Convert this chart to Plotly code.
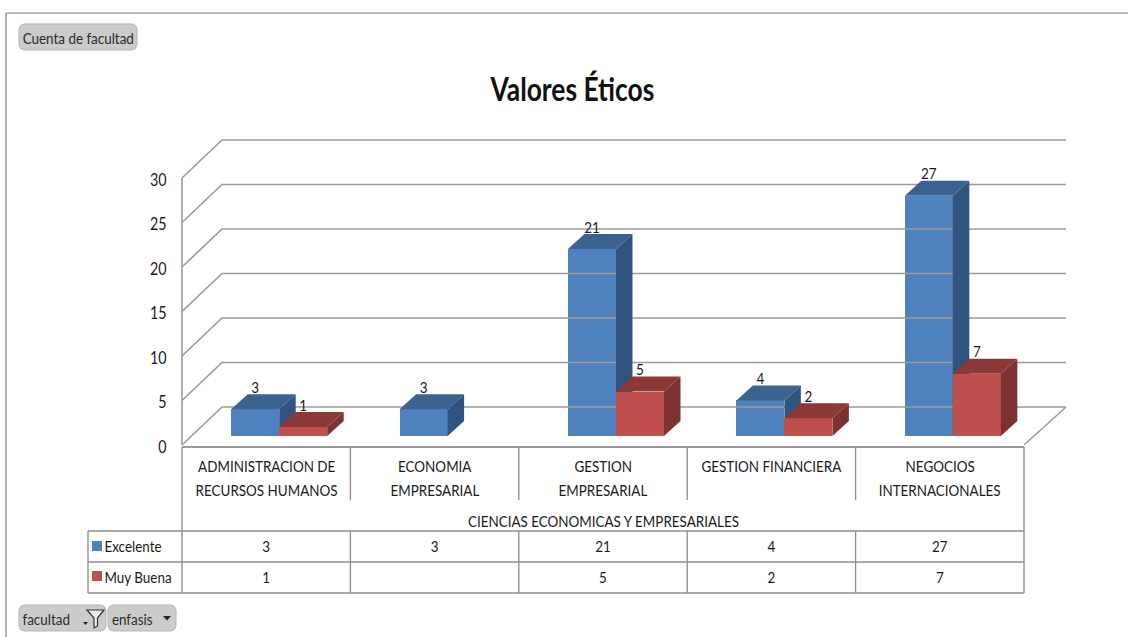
import plotly.graph_objects as go

# ---------- data ----------
categories = ["ADMINISTRACION DE<br>RECURSOS HUMANOS", "ECONOMIA<br>EMPRESARIAL", "GESTION<br>EMPRESARIAL",
              "GESTION FINANCIERA", "NEGOCIOS<br>INTERNACIONALES"]
group_label = "CIENCIAS ECONOMICAS Y EMPRESARIALES"
excelente = [3, 3, 21, 4, 27]
muy_buena = [1, None, 5, 2, 7]
y_ticks = [0, 5, 10, 15, 20, 25, 30]
title_text = "Valores Éticos"

# ---------- geometry ----------
W, H = 1128, 637
X0_PX, CAT_PX = 182.0, 168.4      # pixel of category 0, pixels per category
Y0_PX, UNIT_PX = 445.0, 8.9       # pixel of value 0, pixels per value unit
FONT = "Lato, sans-serif"
TXT = "#1a1a1a"
GRID = "#9a9a9a"
TABLE = "#8c8c8c"


def dx(px):
    return px / CAT_PX


def dy(px):
    return px / UNIT_PX


def row_y(py):
    return (Y0_PX - py) / UNIT_PX


def paper_x(px):
    return px / W


def paper_y(py):
    return 1 - py / H


xrange_ = [-X0_PX / CAT_PX, (W - X0_PX) / CAT_PX]
yrange_ = [(Y0_PX - H) / UNIT_PX, Y0_PX / UNIT_PX]

WALL_X, WALL_Y = dx(40), dy(38)   # depth of the chart box
BACK_EXTRA = dx(2)
BAR_W = dx(48)
BAR_SHIFT = dx(13)                # pair centre offset from category centre
BAR_FLOOR = dy(9)                 # front bottom of the bars, in value units
BAR_DX, BAR_DY = dx(16.5), dy(15)  # depth of a bar

fig = go.Figure()

# ---------- walls ----------
n = len(categories)
for t in y_ticks:
    fig.add_trace(go.Scatter(
        x=[0, WALL_X, n + WALL_X + BACK_EXTRA], y=[t, t + WALL_Y, t + WALL_Y],
        mode="lines", line=dict(color=GRID, width=1.6), hoverinfo="skip", showlegend=False))
fig.add_trace(go.Scatter(
    x=[n, n + WALL_X + BACK_EXTRA], y=[0, WALL_Y],
    mode="lines", line=dict(color=GRID, width=1.4), hoverinfo="skip", showlegend=False))
fig.add_trace(go.Scatter(
    x=[0, 0], y=[y_ticks[0], y_ticks[-1]],
    mode="lines", line=dict(color=GRID, width=1.6), hoverinfo="skip", showlegend=False))


def add_series(values, name, front, top, side, left_off, xa, ya):
    xs, ys = [], []
    for i, v in enumerate(values):
        if v is None:
            continue
        xs.append(i + 0.5 + BAR_SHIFT + left_off + BAR_W / 2)
        ys.append(v)
    fig.add_trace(go.Bar(x=xs, y=ys, base=BAR_FLOOR, width=BAR_W, name=name,
                         marker=dict(color=front, line=dict(width=0)),
                         xaxis=xa, yaxis=ya, showlegend=False))
    for cx, v in zip(xs, ys):
        l, r = cx - BAR_W / 2, cx + BAR_W / 2
        b, t = BAR_FLOOR, BAR_FLOOR + v
        fig.add_trace(go.Scatter(
            x=[r, r + BAR_DX, r + BAR_DX, r, r], y=[b, b + BAR_DY, t + BAR_DY, t, b],
            fill="toself", fillcolor=side, mode="lines", line=dict(width=0, color=side),
            xaxis=xa, yaxis=ya, hoverinfo="skip", showlegend=False))
        fig.add_trace(go.Scatter(
            x=[l, r, r + BAR_DX, l + BAR_DX, l], y=[t, t, t + BAR_DY, t + BAR_DY, t],
            fill="toself", fillcolor=top, mode="lines", line=dict(width=0, color=top),
            xaxis=xa, yaxis=ya, hoverinfo="skip", showlegend=False))
    fig.add_trace(go.Scatter(
        x=xs, y=[BAR_FLOOR + v + dy(20.5) for v in ys], text=[str(v) for v in ys],
        mode="text", textposition="middle center",
        textfont=dict(family=FONT, size=16, color=TXT),
        xaxis=xa, yaxis=ya, hoverinfo="skip", showlegend=False))


add_series(excelente, "Excelente", "#4f81bd", "#3c6290", "#30537f", -BAR_W, "x", "y")
add_series(muy_buena, "Muy Buena", "#c0504d", "#8c3836", "#7d3230", 0, "x2", "y2")

# ---------- data table text, on the same scales ----------
centres = [i + 0.5 for i in range(n)]
for label_row, vals in ((row_y(548), excelente), (row_y(579), muy_buena)):
    fig.add_trace(go.Scatter(
        x=centres, y=[label_row] * len(vals), text=["" if v is None else str(v) for v in vals],
        mode="text", textfont=dict(family=FONT, size=16, color=TXT),
        hoverinfo="skip", showlegend=False))

annotations = []
for c, label in zip(centres, categories):
    for k, part in enumerate(label.split("<br>")):
        annotations.append(dict(x=c, xref="x", y=row_y(465 + 24 * k), yref="y", yanchor="middle",
                                text=part, showarrow=False, align="center",
                                font=dict(family=FONT, size=16, color=TXT)))
annotations.append(dict(x=2.5, xref="x", y=row_y(520), yref="y", yanchor="middle", text=group_label,
                        showarrow=False, font=dict(family=FONT, size=16, color=TXT)))
annotations.append(dict(x=paper_x(572), xref="paper", y=paper_y(88), yref="paper", yanchor="middle",
                        text="<b>" + title_text + "</b>", showarrow=False,
                        font=dict(family=FONT, size=33, color="#111111")))


def chrome_text(px, py, s, size=16, anchor="center", color="#2a2a2a"):
    annotations.append(dict(x=paper_x(px), xref="paper", y=paper_y(py), yref="paper", yanchor="middle",
                            text=s, showarrow=False, xanchor=anchor,
                            font=dict(family=FONT, size=size, color=color)))


chrome_text(97, 545, "Excelente", anchor="left", color=TXT)
chrome_text(96, 576, "Muy Buena", anchor="left", color=TXT)
chrome_text(78, 37, "Cuenta de facultad")
chrome_text(16, 618, "facultad", anchor="left")
chrome_text(106, 618, "enfasis", anchor="left")

# ---------- chrome ----------
shapes = []


def line(x0, y0, x1, y1, color=TABLE, width=1.3):
    shapes.append(dict(type="line", xref="paper", yref="paper", x0=paper_x(x0), x1=paper_x(x1),
                       y0=paper_y(y0), y1=paper_y(y1), line=dict(color=color, width=width)))


def poly(points, fill, lcolor=None, w=0):
    path = "M " + " L ".join(f"{paper_x(a):.5f},{paper_y(b):.5f}" for a, b in points) + " Z"
    shapes.append(dict(type="path", xref="paper", yref="paper", path=path, fillcolor=fill,
                       line=dict(color=lcolor or fill, width=w)))


def button(x0, y0, x1, y1, r=5):
    pts = [(x0 + r, y0), (x1 - r, y0), (x1 - r * .3, y0 + r * .3), (x1, y0 + r), (x1, y1 - r),
           (x1 - r * .3, y1 - r * .3), (x1 - r, y1), (x0 + r, y1), (x0 + r * .3, y1 - r * .3), (x0, y1 - r),
           (x0, y0 + r), (x0 + r * .3, y0 + r * .3)]
    poly(pts, "#cbcbcb", "#b5b5b5", 1)


line(6, 13, 1128, 13, "#7f7f7f", 1.2)
line(6, 13, 6, 637, "#7f7f7f", 1.2)

col_px = [X0_PX + CAT_PX * i for i in range(n + 1)]
line(182, 447, 1024, 447, GRID, 1.8)
line(182, 447, 182, 531)
line(1024, 447, 1024, 531)
for c in col_px[1:-1]:
    line(c, 447, c, 500)
    line(c, 531, c, 593)
line(88, 531, 1024, 531)
line(88, 562, 1024, 562)
line(88, 593, 1024, 593)
line(88, 531, 88, 593)
line(182, 531, 182, 593)
line(1024, 531, 1024, 593)

poly([(92, 541), (102, 541), (102, 551), (92, 551)], "#4f81bd")
poly([(92, 571), (102, 571), (102, 581), (92, 581)], "#c0504d")

button(19, 24, 137, 50)
button(19, 605, 106, 631)
button(108, 605, 176, 631)
poly([(83, 622), (88, 622), (85.5, 625)], "#222222")
poly([(87, 610), (104, 610), (97.5, 618), (97.5, 626), (94, 628), (94, 618)], "#eeeeee", "#333333", 1.2)
poly([(163, 616), (171, 616), (167, 620.5)], "#222222")

fig.update_layout(
    width=W, height=H, margin=dict(l=0, r=0, t=0, b=0), autosize=False,
    paper_bgcolor="white", plot_bgcolor="white", barmode="overlay", bargap=0,
    hovermode=False, showlegend=False,
    shapes=shapes, annotations=annotations,
    xaxis=dict(range=xrange_, visible=False, fixedrange=True, domain=[0, 1]),
    yaxis=dict(range=yrange_, domain=[0, 1], anchor="free", position=paper_x(X0_PX), side="left",
               tickmode="array", tickvals=y_ticks, ticktext=[str(t) for t in y_ticks],
               ticks="outside", ticklen=12, tickcolor="rgba(255,255,255,0)",
               showgrid=False, zeroline=False, showline=False,
               tickfont=dict(family=FONT, size=17, color=TXT), fixedrange=True),
    xaxis2=dict(range=xrange_, visible=False, overlaying="x", fixedrange=True),
    yaxis2=dict(range=yrange_, visible=False, overlaying="y", anchor="x2", fixedrange=True),
)

# The reference uses a horizontally squeezed typeface: narrow the real text elements around their centres.
POST = """
document.body.style.margin='0';document.body.style.overflow='hidden';
var gd=document.querySelector('.plotly-graph-div');
function squeeze(){
  gd.querySelectorAll('text.annotation-text, .ytick text, .textpoint text').forEach(function(t){
    if(t.dataset.sq) return; t.dataset.sq='1';
    var b=t.getBBox(), fs=parseFloat(t.style.fontSize)||16;
    var k=fs>25?0.8:0.84, shift=0;
    var cx=b.x+b.width/2, cur=t.getAttribute('transform')||'';
    if(t.closest('.ytick')){cx=b.x+b.width;shift=2;}
    t.setAttribute('transform',cur+' translate('+cx+','+shift+') scale('+k+',1) translate('+(-cx)+',0)');
  });
}
squeeze();
"""
fig.write_html("out.html", config={"displayModeBar": False}, post_script=POST)
